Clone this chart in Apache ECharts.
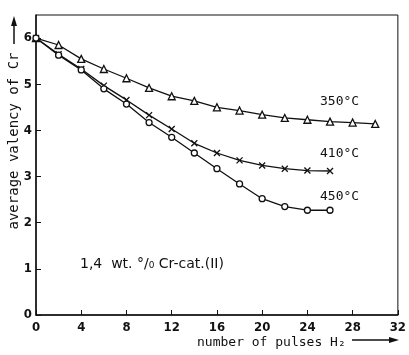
<!DOCTYPE html>
<html>
<head>
<meta charset="utf-8">
<script src="https://cdn.jsdelivr.net/npm/echarts@6/dist/echarts.min.js"></script>
<style>html,body{margin:0;padding:0;background:#fff}#c{width:409px;height:355px}</style>
</head>
<body>
<div id="c"></div>
<script>
const pulses350 = [0, 2, 4, 6, 8, 10, 12, 14, 16, 18, 20, 22, 24, 26, 28, 30];
const val350 = [6.0, 5.85, 5.55, 5.33, 5.13, 4.92, 4.74, 4.64, 4.50, 4.43, 4.34, 4.27, 4.23, 4.19, 4.17, 4.14];
const pulses410 = [0, 2, 4, 6, 8, 10, 12, 14, 16, 18, 20, 22, 24, 26];
const val410 = [6.0, 5.65, 5.33, 4.97, 4.66, 4.33, 4.03, 3.72, 3.51, 3.35, 3.24, 3.17, 3.13, 3.12];
const pulses450 = [0, 2, 4, 6, 8, 10, 12, 14, 16, 18, 20, 22, 24, 26];
const val450 = [6.0, 5.63, 5.31, 4.90, 4.57, 4.17, 3.85, 3.51, 3.17, 2.84, 2.52, 2.35, 2.27, 2.27];
const xTicks = [0, 4, 8, 12, 16, 20, 24, 28, 32];
const yTicks = [0, 1, 2, 3, 4, 5, 6];

const FONT = '"Liberation Sans Narrow", "DejaVu Sans Condensed", "DejaVu Sans", sans-serif';
const MONO = '"DejaVu Sans Mono", "Liberation Mono", monospace';
const zip = (xs, ys) => xs.map((x, i) => [x, ys[i]]);
const chart = echarts.init(document.getElementById('c'), null, {renderer: 'canvas'});
const baseSeries = (data, symbol, size) => ({
  type: 'line', data: data, symbol: symbol, symbolSize: size, showSymbol: true,
  lineStyle: {color: '#111', width: 1.3},
  itemStyle: {color: '#fff', borderColor: '#111', borderWidth: 1.3},
  emphasis: {disabled: true}, z: 3
});
chart.setOption({
  animation: false,
  grid: {left: 36, right: 10, top: 15, bottom: 40, show: true, borderColor: '#111', borderWidth: 1, backgroundColor: 'transparent'},
  xAxis: {
    type: 'value', min: 0, max: 32, interval: 4,
    axisLine: {show: true, lineStyle: {color: '#111', width: 1.5}},
    axisTick: {show: true, inside: true, length: 5, lineStyle: {color: '#111'}},
    axisLabel: {color: '#111', fontFamily: FONT, fontSize: 13, fontWeight: 'bold', margin: 6,
      formatter: v => xTicks.includes(v) ? String(v) : ''},
    splitLine: {show: false}
  },
  yAxis: {
    type: 'value', min: 0, max: 6.5, interval: 1,
    axisLine: {show: true, lineStyle: {color: '#111', width: 1.5}},
    axisTick: {show: true, inside: true, length: 5, lineStyle: {color: '#111'}},
    axisLabel: {color: '#111', fontFamily: FONT, fontSize: 13, fontWeight: 'bold', margin: 4, showMaxLabel: false,
      formatter: v => yTicks.includes(v) ? String(v) : ''},
    splitLine: {show: false}
  },
  series: [
    baseSeries(zip(pulses350, val350), 'triangle', 7),
    baseSeries(zip(pulses410, val410), 'path://M0,0L10,10M10,0L0,10', 6),
    baseSeries(zip(pulses450, val450), 'circle', 6)
  ],
  graphic: [
    {type: 'text', left: 320, top: 95, style: {text: '350°C', font: '13px ' + MONO, fill: '#111'}},
    {type: 'text', left: 320, top: 147, style: {text: '410°C', font: '13px ' + MONO, fill: '#111'}},
    {type: 'text', left: 320, top: 190, style: {text: '450°C', font: '13px ' + MONO, fill: '#111'}},
    {type: 'text', left: 80, top: 257, style: {text: '1,4  wt. °/\u2080 Cr-cat.(II)', font: '14px "DejaVu Sans", sans-serif', fill: '#111'}},
    {type: 'text', left: 197, top: 336, style: {text: 'number of pulses H\u2082', font: '13px ' + MONO, fill: '#111'}},
    {type: 'line', shape: {x1: 352, y1: 340, x2: 396, y2: 340}, style: {stroke: '#111', lineWidth: 1.5}},
    {type: 'polygon', shape: {points: [[399, 340], [389, 337], [389, 343]]}, style: {fill: '#111'}},
    {type: 'text', x: 14, y: 141, rotation: Math.PI / 2, style: {text: 'average valency of Cr', font: '14px ' + MONO, fill: '#111', align: 'center', verticalAlign: 'middle'}},
    {type: 'line', shape: {x1: 14, y1: 44, x2: 14, y2: 20}, style: {stroke: '#111', lineWidth: 1.5}},
    {type: 'polygon', shape: {points: [[14, 16], [11, 26], [17, 26]]}, style: {fill: '#111'}}
  ]
});
</script>
</body>
</html>
